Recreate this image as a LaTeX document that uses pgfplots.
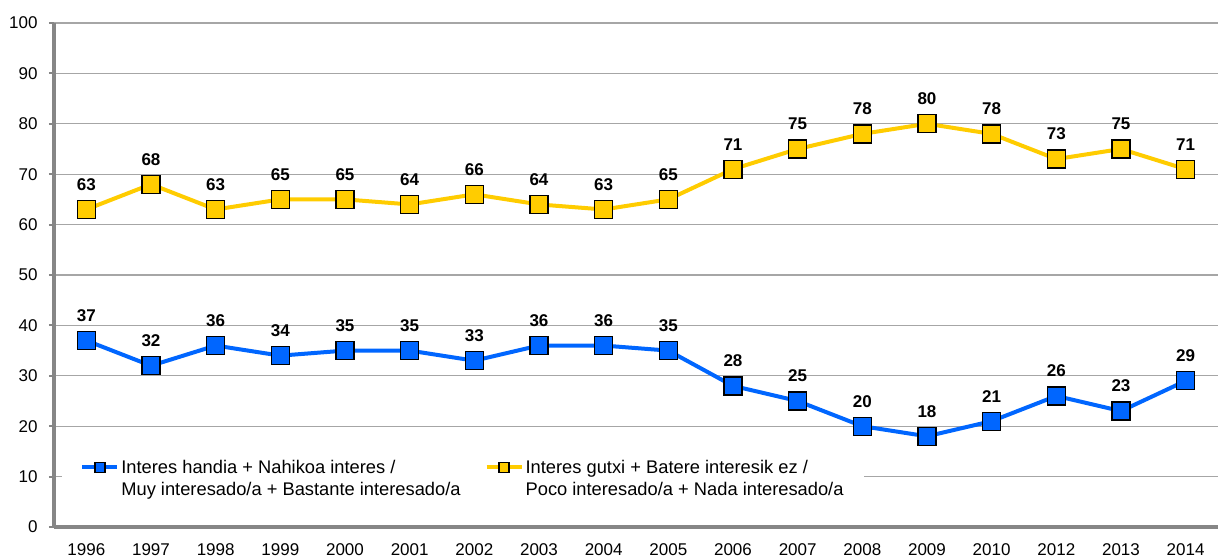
\documentclass[border=0pt]{standalone}
\usepackage{pgfplots}
\pgfplotsset{compat=1.18}
\usepackage{fontspec}
\setmainfont{Liberation Sans}
\definecolor{cblue}{HTML}{0066FF}
\definecolor{cyel}{HTML}{FFCC00}
\definecolor{cgrid}{HTML}{A6A6A6}
\definecolor{caxis}{HTML}{868686}
\begin{document}
\begin{tikzpicture}
\path[use as bounding box] (-54pt,-30pt) rectangle (1164pt,527pt);
\begin{axis}[
  scale only axis, width=1164pt, height=504pt,
  at={(0,0)}, anchor=south west,
  xmin=-0.5, xmax=17.5, ymin=0, ymax=100,
  ytick={0,10,...,100},
  xtick={0,...,17},
  xticklabels={1996,1997,1998,1999,2000,2001,2002,2003,2004,2005,2006,2007,2008,2009,2010,2012,2013,2014},
  x tick style={draw=none},
  extra x ticks={-0.5,0.5,...,17.5},
  extra x tick labels={},
  extra x tick style={grid=none, tick align=outside, major tick length=6pt, tick style={draw=caxis, line width=2pt}},
  y tick style={draw=caxis, line width=2pt},
  tick align=outside, major tick length=5pt,
  ymajorgrids, grid style={cgrid, line width=1.3pt},
  axis x line*=bottom, axis y line*=left,
  axis line style={-, caxis, line width=3.5pt},
  font=\fontsize{17}{20}\selectfont,
  /pgf/number format/assume math mode=true,
  xticklabel style={yshift=-8pt},
  yticklabel style={xshift=-8pt},
  clip=false,
  nodes near coords,
  every node near coord/.append style={font=\fontsize{17}{20}\selectfont\bfseries, yshift=15pt, black},
  legend columns=2,
  legend style={at={(0.007,0.096)}, anchor=west, draw=none, fill=white, inner xsep=18pt,
    font=\fontsize{18.3}{22.5}\selectfont, cells={align=left, inner xsep=1.5pt},
    /tikz/every even column/.append style={column sep=22pt}},
  legend cell align=left,
  legend image code/.code={\draw[yshift=11.25pt,mark repeat=2,mark phase=2,#1,mark size=5pt] plot coordinates {(0pt,0pt) (17.5pt,0pt) (35pt,0pt)};},
]
\addplot[cblue, line width=4pt, mark=square*, mark size=9pt, mark options={fill=cblue, draw=black, line width=1.3pt}] coordinates {
(0,37) (1,32) (2,36) (3,34) (4,35) (5,35) (6,33) (7,36) (8,36) (9,35) (10,28) (11,25) (12,20) (13,18) (14,21) (15,26) (16,23) (17,29)};
\addlegendentry{Interes handia + Nahikoa interes /\\Muy interesado/a + Bastante interesado/a}
\addplot[cyel, line width=4pt, mark=square*, mark size=9pt, mark options={fill=cyel, draw=black, line width=1.3pt}] coordinates {
(0,63) (1,68) (2,63) (3,65) (4,65) (5,64) (6,66) (7,64) (8,63) (9,65) (10,71) (11,75) (12,78) (13,80) (14,78) (15,73) (16,75) (17,71)};
\addlegendentry{Interes gutxi + Batere interesik ez /\\Poco interesado/a + Nada interesado/a}
\end{axis}
\end{tikzpicture}
\end{document}
